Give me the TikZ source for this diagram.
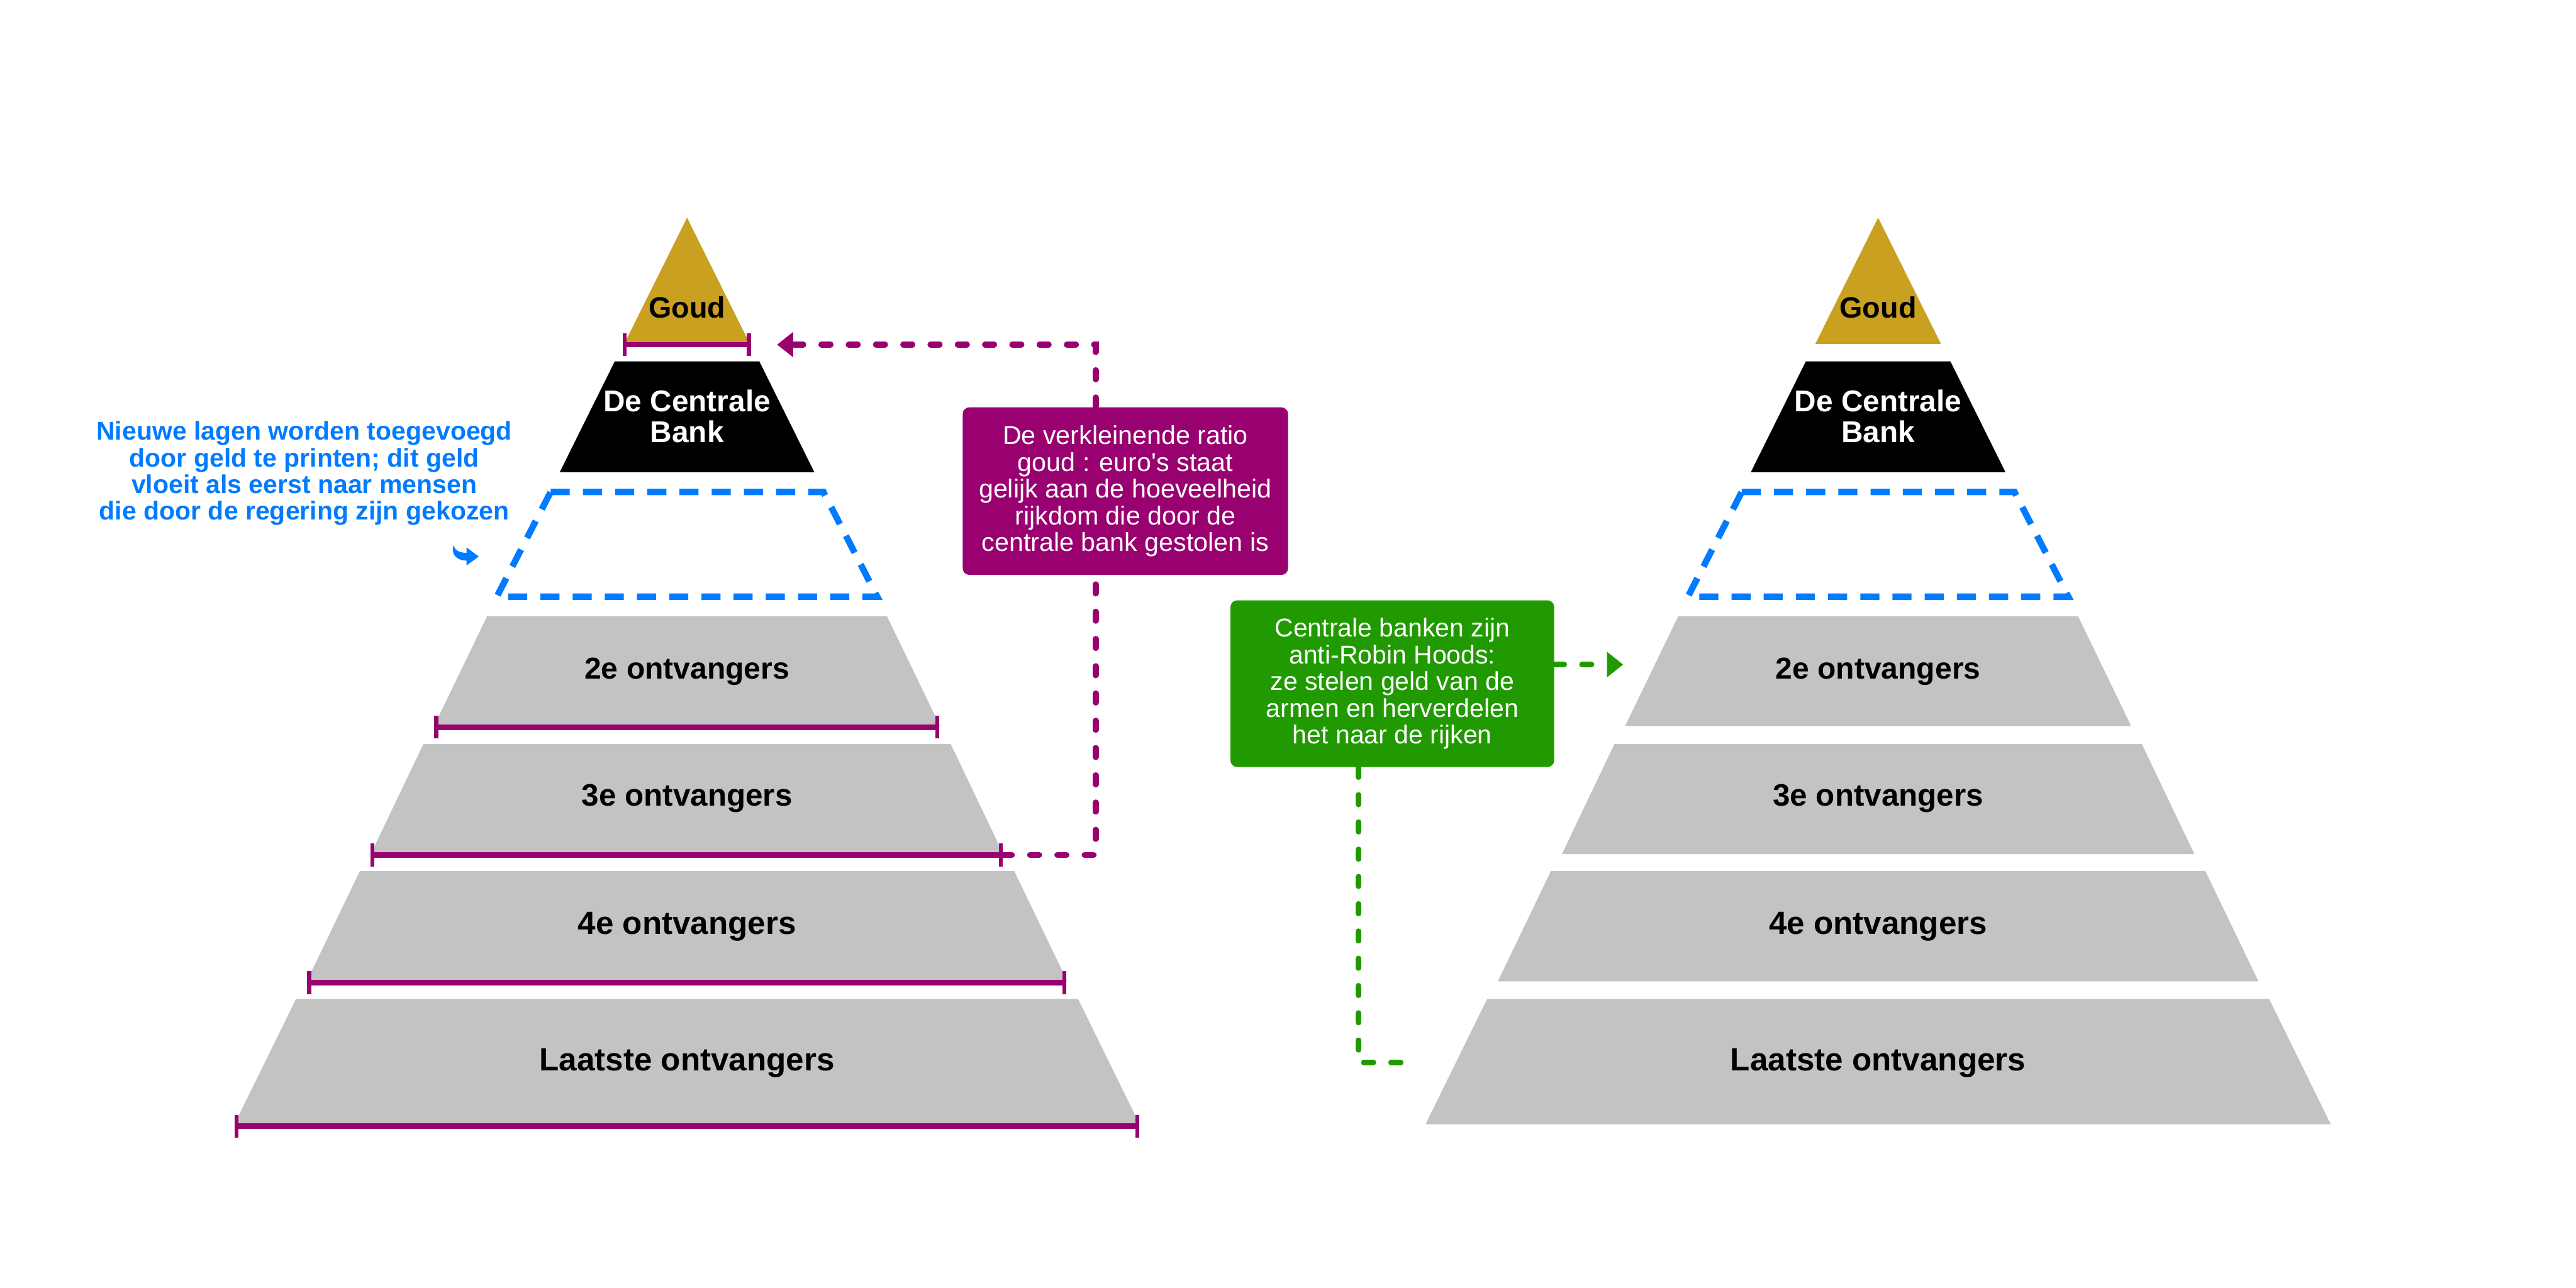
\documentclass[tikz,border=0pt]{standalone}
\usepackage{fontspec}
\setmainfont{Liberation Sans}
\usetikzlibrary{arrows.meta}

\definecolor{gold}{HTML}{C9A020}
\definecolor{plum}{HTML}{990070}
\definecolor{leaf}{HTML}{209A00}
\definecolor{sky}{HTML}{007BFF}
\definecolor{tier}{HTML}{C3C3C3}

\newcommand\sizedfont[2]{\fontsize{#1}{#2}\selectfont}

\tikzset{
  lbl/.style={anchor=base, inner sep=0pt},
  multilbl/.style={anchor=center, inner sep=0pt, align=center},
  newtier/.style={draw=sky, line width=1.95pt, dash pattern=on 5.8pt off 4pt},
  bracket/.style={draw=plum, line width=1.7pt,
    arrows={Bar[width=7pt,line width=1.2pt]-Bar[width=7pt,line width=1.2pt]}},
  plumdash/.style={draw=plum, line width=1.75pt, line cap=round,
    dash pattern=on 2.85pt off 5.45pt},
  leafdash/.style={draw=leaf, line width=1.75pt, line cap=round,
    dash pattern=on 2.85pt off 5.45pt},
  tip/.style={arrows={-Triangle[length=4.9pt,width=7.4pt]}},
  notebox/.style={rounded corners=2pt, text=white, inner sep=0pt, align=center,
    font=\sizedfont{7.9pt}{8.15pt}},
}

% one pyramid: #1 = centre x, #2 = prefix for the node names
\newcommand\drawpyramid[2]{%
  \begin{scope}[shift={(#1,0)}]
    \fill[gold] (0,132.5) -- (38.3,209.5) -- (-38.3,209.5) -- cycle;
    \fill[black] (-44,220) -- (44,220) -- (77.5,287.5) -- (-77.5,287.5) -- cycle;
    \draw[newtier] (-83,299.5) -- (83,299.5) -- (115.8,363.3) -- (-115.8,363.3) -- cycle;
    \fill[tier] (-121.7,375.2) -- (121.7,375.2) -- (154,442) -- (-154,442) -- cycle;
    \fill[tier] (-160.5,453) -- (160.5,453) -- (192.5,520) -- (-192.5,520) -- cycle;
    \fill[tier] (-199.2,530.4) -- (199.2,530.4) -- (231.5,597.5) -- (-231.5,597.5) -- cycle;
    \fill[tier] (-238,608.2) -- (238,608.2) -- (275.5,684.5) -- (-275.5,684.5) -- cycle;
    \node[lbl, font=\bfseries\sizedfont{8.95pt}{9pt}] (#2goud) at (0,193.4) {Goud};
    \node[multilbl, text=white, font=\bfseries\sizedfont{9.15pt}{9.45pt}] (#2bank) at (0,253.5) {De Centrale\\Bank};
    \node[lbl, font=\bfseries\sizedfont{9.2pt}{9.5pt}] (#2r2) at (0,413.5) {2e ontvangers};
    \node[lbl, font=\bfseries\sizedfont{9.45pt}{9.7pt}] (#2r3) at (0,490.8) {3e ontvangers};
    \node[lbl, font=\bfseries\sizedfont{9.8pt}{10pt}] (#2r4) at (0,568.6) {4e ontvangers};
    \node[lbl, font=\bfseries\sizedfont{9.8pt}{10pt}] (#2last) at (0,652) {Laatste ontvangers};
  \end{scope}}

\begin{document}
\begin{tikzpicture}[x=0.5pt, y=-0.5pt]
  \useasboundingbox (0,0) rectangle (1568,784);
  \fill[white] (0,0) rectangle (1568,784);

  \drawpyramid{418.2}{L}
  \drawpyramid{1143.2}{R}

  % width markers under the layers of the left pyramid
  \coordinate (g1) at (379,209.8);   \coordinate (g2) at (457,209.8);
  \coordinate (s1) at (264.3,442.7); \coordinate (s2) at (571.6,442.7);
  \coordinate (t1) at (225.6,520.5); \coordinate (t2) at (610.3,520.5);
  \coordinate (f1) at (187,598.2);   \coordinate (f2) at (649.2,598.2);
  \coordinate (e1) at (142.8,685.7); \coordinate (e2) at (693.5,685.7);
  \draw[bracket] (g1) -- (g2);
  \draw[bracket] (s1) -- (s2);
  \draw[bracket] (t1) -- (t2);
  \draw[bracket] (f1) -- (f2);
  \draw[bracket] (e1) -- (e2);

  % note on the new layers
  \node[multilbl, text=sky, font=\bfseries\sizedfont{7.85pt}{8.1pt}] (newnote) at (185.2,288.2)
    {Nieuwe lagen worden toegevoegd\\door geld te printen; dit geld\\vloeit als eerst naar mensen\\die door de regering zijn gekozen};
  \fill[sky] (276,332) .. controls (274.3,337.5) and (278,341.3) .. (284,341.3)
    -- (284,344.3) -- (291.4,338.8) -- (284,333.3) -- (284,336.6)
    .. controls (280,336.6) and (277,335.2) .. (276,332) -- cycle;

  % ratio note and its connector
  \node[notebox, fill=plum, minimum width=99pt, minimum height=51pt] (ratio) at (685,299)
    {De verkleinende ratio\\goud : euro\textquotesingle s staat\\gelijk aan de hoeveelheid\\rijkdom die door de\\centrale bank gestolen is};
  \coordinate (pv) at (667,0);
  \coordinate (gtip) at (473,209.8);
  \draw[plumdash] (t2) -| (pv |- ratio.south);
  \draw[plumdash, tip] (pv |- ratio.north) |- (gtip);

  % anti-Robin Hood note and its connectors
  \node[notebox, fill=leaf, font=\sizedfont{7.85pt}{8.15pt}, minimum width=98.5pt, minimum height=50.75pt] (robin) at (847.5,416.25)
    {Centrale banken zijn\\anti-Robin Hoods:\\ze stelen geld van de\\armen en herverdelen\\het naar de rijken};
  \coordinate (gv) at (827,0);
  \coordinate (rtip) at (988,404.6);
  \coordinate (rend) at (863,646.8);
  \draw[leafdash, tip] (robin.east |- rtip) -- (rtip);
  \draw[leafdash] (gv |- robin.south) |- (rend);
\end{tikzpicture}
\end{document}
